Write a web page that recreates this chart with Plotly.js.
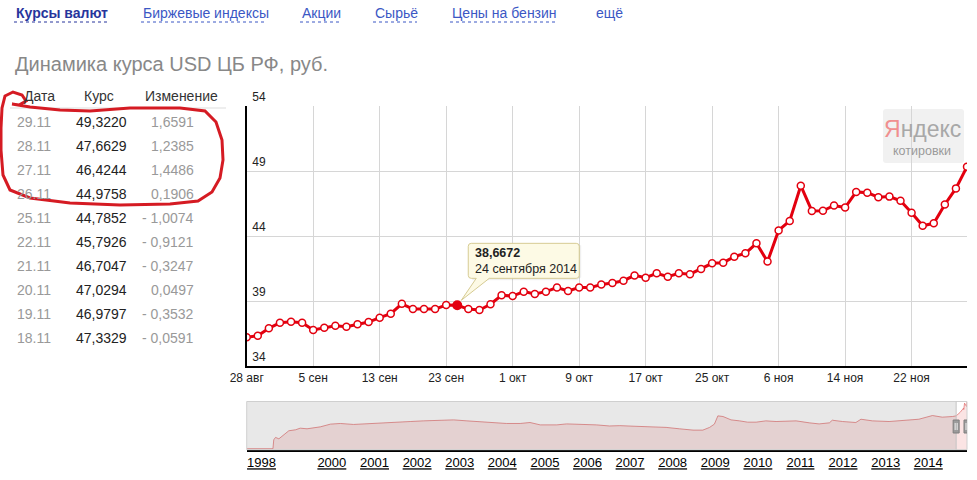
<!DOCTYPE html>
<html>
<head>
<meta charset="utf-8">
<script src="https://cdn.plot.ly/plotly-3.0.1.min.js"></script>
<style>
html,body{margin:0;padding:0;background:#fff;}
#chart{width:977px;height:480px;}
</style>
</head>
<body>
<div id="chart"></div>
<script>
// ---------- DATA ----------
const dates = ['28 авг','29 авг','30 авг','2 сен','3 сен','4 сен','5 сен','6 сен','9 сен','10 сен','11 сен','12 сен','13 сен','16 сен','17 сен','18 сен','19 сен','20 сен','23 сен','24 сен','25 сен','26 сен','27 сен','30 сен','1 окт','2 окт','3 окт','4 окт','7 окт','8 окт','9 окт','10 окт','11 окт','14 окт','15 окт','16 окт','17 окт','18 окт','21 окт','22 окт','23 окт','24 окт','25 окт','28 окт','29 окт','30 окт','31 окт','1 ноя','6 ноя','7 ноя','8 ноя','11 ноя','12 ноя','13 ноя','14 ноя','15 ноя','18 ноя','19 ноя','20 ноя','21 ноя','22 ноя','25 ноя','26 ноя','27 ноя','28 ноя','29 ноя'];
const rates = [36.21,36.33,36.90,37.33,37.41,37.33,36.77,36.95,37.10,37.02,
               37.21,37.38,37.72,38.02,38.78,38.38,38.38,38.38,38.69,38.6672,
               38.38,38.31,38.75,39.44,39.38,39.72,39.54,39.72,40.03,39.77,
               40.03,40.03,40.27,40.38,40.56,40.97,40.79,41.13,40.87,41.13,
               41.06,41.46,41.90,41.95,42.41,42.67,43.44,42.03,44.43,45.16,
               47.87,45.93,45.94,46.35,46.19,47.392,47.3329,46.9797,47.0294,46.7047,
               45.7926,44.7852,44.9758,46.4244,47.6629,49.3220];
const xTickLabels = ['28 авг','5 сен','13 сен','23 сен','1 окт','9 окт','17 окт','25 окт','6 ноя','14 ноя','22 ноя'];
const highlightIndex = 19;
const tooltipDate = '24 сентября 2014';

const tableHeaders = ['Дата','Курс','Изменение'];
const tableDates = ['29.11','28.11','27.11','26.11','25.11','22.11','21.11','20.11','19.11','18.11'];
const tableRates = [49.3220,47.6629,46.4244,44.9758,44.7852,45.7926,46.7047,47.0294,46.9797,47.3329];
const tableChanges = [1.6591,1.2385,1.4486,0.1906,-1.0074,-0.9121,-0.3247,0.0497,-0.3532,-0.0591];

const navDates = ['1998-01-01','1998-08-14','1998-08-21','1998-09-05','1998-10-04','1998-11-13','1998-12-28',
 '1999-02-24','1999-04-05','1999-06-02','1999-09-24','1999-12-20','2000-03-14','2000-07-05','2000-10-30',
 '2001-02-20','2001-07-12','2001-11-03','2002-02-24','2002-07-16','2002-11-10','2003-03-04','2003-06-25',
 '2003-10-16','2004-02-06','2004-06-03','2004-08-26','2004-11-22','2005-04-13','2005-07-06','2005-11-25',
 '2006-03-18','2006-07-09','2006-10-05','2007-01-26','2007-07-16','2007-11-06','2008-02-28','2008-06-24',
 '2008-09-16','2008-11-13','2008-12-24','2009-01-23','2009-03-08','2009-05-16','2009-07-28','2009-10-05',
 '2009-12-17','2010-03-10','2010-06-06','2010-08-29','2010-11-25','2011-03-18','2011-06-10','2011-09-06',
 '2011-10-01','2011-12-28','2012-04-20','2012-06-03','2012-09-09','2013-01-30','2013-06-21','2013-10-12',
 '2014-02-06','2014-05-01','2014-07-28','2014-08-28','2014-10-01','2014-10-31','2014-11-01','2014-11-08',
 '2014-11-25','2014-11-29'];
const navValues = [6.0,6.0,14.2,16.4,15.1,18.8,22.5,
 23.4,24.9,24.3,26.1,28.6,29.2,28.3,28.8,
 29.5,30.1,31.0,31.6,32.0,32.5,31.6,30.7,
 30.4,29.2,29.2,30.1,27.9,27.9,28.8,28.6,
 27.9,26.9,27.2,26.7,26.1,25.6,24.3,23.1,
 23.1,25.6,28.6,36.2,35.6,32.5,31.6,30.4,
 30.4,31.6,31.0,31.6,31.6,29.8,28.8,29.8,
 32.2,31.0,30.1,33.1,31.6,31.0,32.2,33.1,
 36.5,35.0,35.6,36.2,39.4,43.4,42.0,47.9,
 44.8,49.3];
const navYearTicks = ['1998-05-08','2000-01-01','2001-01-01','2002-01-01','2003-01-01','2004-01-01','2005-01-01','2006-01-01','2007-01-01','2008-01-01','2009-01-01','2010-01-01','2011-01-01','2012-01-01','2013-01-01','2014-01-01'];
const navYearLabels = ['1998','2000','2001','2002','2003','2004','2005','2006','2007','2008','2009','2010','2011','2012','2013','2014'];
const navWindow = ['2014-08-28','2014-11-29'];

const tabs = ['Курсы валют','Биржевые индексы','Акции','Сырьё','Цены на бензин','ещё'];
const pageTitle = 'Динамика курса USD ЦБ РФ, руб.';

// ---------- HELPERS ----------
const W = 977, H = 480;
const PX = x => x / W, PY = y => 1 - y / H;
const fmt = v => v.toFixed(4).replace('.', ',');
const fmtChange = v => (v < 0 ? '- ' : '') + Math.abs(v).toFixed(4).replace('.', ',');
const FONT = 'Arial, "Liberation Sans", sans-serif';
const RED = '#e3000f';

// ---------- TRACES ----------
const traces = [
  {
    x: dates, y: rates, type: 'scatter', mode: 'lines+markers',
    line: {color: RED, width: 3},
    marker: {size: 7, color: '#fff', line: {color: RED, width: 1.5}},
    xaxis: 'x', yaxis: 'y', hoverinfo: 'skip', showlegend: false
  },
  {
    x: [dates[highlightIndex]], y: [rates[highlightIndex]], type: 'scatter', mode: 'markers',
    marker: {size: 10, color: RED},
    xaxis: 'x', yaxis: 'y', hoverinfo: 'skip', showlegend: false
  },
  {
    x: navDates, y: navValues, type: 'scatter', mode: 'lines', fill: 'tozeroy',
    fillcolor: 'rgba(240,150,150,0.26)', line: {color: 'rgba(225,110,110,0.75)', width: 1},
    xaxis: 'x2', yaxis: 'y2', hoverinfo: 'skip', showlegend: false
  }
];

// ---------- ANNOTATIONS ----------
const ann = [];
const tabX = [14, 141, 300, 373, 450, 594];
tabs.forEach((t, i) => {
  ann.push({xref:'paper', yref:'paper', x: PX(tabX[i]), y: PY(13), xanchor:'left', yanchor:'middle',
    text: i === 0 ? '<b>' + t + '</b>' : t, showarrow:false,
    font:{family: FONT, size: 14, color: i === 0 ? '#27359c' : '#3b57c4'}});
});
ann.push({xref:'paper', yref:'paper', x: PX(13), y: PY(64), xanchor:'left', yanchor:'middle',
  text: pageTitle, showarrow:false, font:{family: FONT, size: 20, color:'#888'}});
const headX = [39, 99, 181];
tableHeaders.forEach((h, i) => {
  ann.push({xref:'paper', yref:'paper', x: PX(headX[i]), y: PY(96), xanchor:'center', yanchor:'middle',
    text: h, showarrow:false, font:{family: FONT, size: 14, color:'#333'}});
});
tableDates.forEach((d, i) => {
  const yy = PY(121.7 + 24 * i);
  ann.push({xref:'paper', yref:'paper', x: PX(15), y: yy, xanchor:'left', yanchor:'middle',
    text: d, showarrow:false, font:{family: FONT, size: 14, color:'#999'}});
  ann.push({xref:'paper', yref:'paper', x: PX(129), y: yy, xanchor:'right', yanchor:'middle',
    text: fmt(tableRates[i]), showarrow:false, font:{family: FONT, size: 14, color:'#222'}});
  ann.push({xref:'paper', yref:'paper', x: PX(196), y: yy, xanchor:'right', yanchor:'middle',
    text: fmtChange(tableChanges[i]), showarrow:false, font:{family: FONT, size: 14, color:'#999'}});
});
ann.push({xref:'x', yref:'y', x: dates[highlightIndex], y: rates[highlightIndex],
  xanchor:'left', yanchor:'middle', xshift: 16, yshift: 44, align:'left', showarrow:false,
  text: '<b>' + fmt(rates[highlightIndex]) + '</b><br>' + tooltipDate,
  font:{family: FONT, size: 12.5, color:'#222'}});
ann.push({xref:'paper', yref:'paper', x: PX(922), y: PY(129), xanchor:'center', yanchor:'middle', showarrow:false,
  text: '<span style="color:#f08f8f">Я</span>ндекс',
  font:{family: '"Liberation Sans Narrow", "Arial Narrow", sans-serif', size: 23, color:'#a8a8a8'}});
ann.push({xref:'paper', yref:'paper', x: PX(922), y: PY(151), xanchor:'center', yanchor:'middle', showarrow:false,
  text: 'котировки', font:{family: FONT, size: 12.5, color:'#9a9a9a'}});

// ---------- SHAPES ----------
const shapes = [];
const tabEnds = [109, 267, 340, 417, 556];
tabEnds.forEach((e, i) => {
  shapes.push({type:'line', xref:'paper', yref:'paper', x0: PX(tabX[i]), x1: PX(e), y0: PY(22), y1: PY(22),
    line:{color: i === 0 ? '#27359c' : '#3b57c4', width:1, dash:'dot'}});
});
shapes.push({type:'line', xref:'paper', yref:'paper', x0: PX(10), x1: PX(226), y0: PY(108), y1: PY(108),
  line:{color:'#ddd', width:1}});
const loop = [[1,128],[2,108],[5,96],[13,92],[22,95],[26,101],[19,105],[12,104],[30,107],[60,110],[90,111],
  [130,108],[180,108],[205,111],[216,122],[222,140],[223,160],[220,178],[212,192],[198,201],[170,204],
  [120,205],[70,203],[30,198],[10,190],[3,175],[1,150],[1,128]];
shapes.push({type:'path', xref:'paper', yref:'paper',
  path: loop.map((p, i) => (i ? 'L' : 'M') + PX(p[0]) + ',' + PY(p[1])).join(' '),
  line:{color:'#d51b23', width:3}});
const callout = 'M14,27 L19,27 L4,5 L32,27 L119,27 Q122,27 122,30 L122,59 Q122,62 119,62 L14,62 Q11,62 11,59 L11,30 Q11,27 14,27 Z';
shapes.push({type:'path', xref:'x', yref:'y', xsizemode:'pixel', ysizemode:'pixel',
  xanchor: dates[highlightIndex], yanchor: rates[highlightIndex],
  path: 'M15,25 L120,25 L124,28 L124,60 L15,60 Z', fillcolor:'rgba(0,0,0,0.06)', line:{width:0}, layer:'above'});
shapes.push({type:'path', xref:'x', yref:'y', xsizemode:'pixel', ysizemode:'pixel',
  xanchor: dates[highlightIndex], yanchor: rates[highlightIndex],
  path: callout, fillcolor:'rgba(253,250,228,0.96)', line:{color:'#d6cb93', width:1}, layer:'above'});
shapes.push({type:'path', xref:'paper', yref:'paper',
  path: 'M' + PX(886) + ',' + PY(109) + ' L' + PX(961) + ',' + PY(109) + ' Q' + PX(964) + ',' + PY(109) + ' ' + PX(964) + ',' + PY(112) +
        ' L' + PX(964) + ',' + PY(160) + ' Q' + PX(964) + ',' + PY(163) + ' ' + PX(961) + ',' + PY(163) +
        ' L' + PX(886) + ',' + PY(163) + ' Q' + PX(883) + ',' + PY(163) + ' ' + PX(883) + ',' + PY(160) +
        ' L' + PX(883) + ',' + PY(112) + ' Q' + PX(883) + ',' + PY(109) + ' ' + PX(886) + ',' + PY(109) + ' Z',
  fillcolor:'rgba(238,238,238,0.8)', line:{width:0}, layer:'below'});
shapes.push({type:'rect', xref:'x2', yref:'y2 domain', x0: navDates[0], x1: navWindow[0], y0: 0, y1: 1,
  fillcolor:'rgba(120,120,120,0.17)', line:{width:0}, layer:'above'});
shapes.push({type:'rect', xref:'x2 domain', yref:'y2 domain', x0: 0, x1: 1, y0: 0, y1: 1,
  line:{color:'#cfcfcf', width:1}, layer:'above'});
shapes.push({type:'line', xref:'x2', yref:'y2 domain', x0: navWindow[0], x1: navWindow[0], y0: 0, y1: 1,
  line:{color:'#c4c4c4', width:1}, layer:'above'});
navWindow.forEach(d => {
  shapes.push({type:'rect', xref:'x2', yref:'paper', xsizemode:'pixel', xanchor: d, x0: -3, x1: 3,
    y0: PY(433), y1: PY(420), fillcolor:'#9c9c9c', line:{color:'#7e7e7e', width:1}, layer:'above'});
  [-1, 1].forEach(o => shapes.push({type:'line', xref:'x2', yref:'paper', xsizemode:'pixel', xanchor: d,
    x0: o, x1: o, y0: PY(430), y1: PY(423), line:{color:'#eee', width:1}, layer:'above'}));
});

// ---------- LAYOUT ----------
const xDomain = [246.7 / W, 967 / W];
const layout = {
  width: W, height: H,
  margin: {l:0, r:0, t:0, b:0},
  paper_bgcolor:'#fff', plot_bgcolor:'#fff',
  showlegend:false,
  font:{family: FONT, size: 12, color:'#222'},
  xaxis: {
    domain: xDomain, anchor:'y', type:'category', range:[0, dates.length - 1],
    tickmode:'array', tickvals: xTickLabels, ticktext: xTickLabels,
    showgrid:true, gridcolor:'#d6d6d6', gridwidth:1,
    showline:true, linecolor:'#000', linewidth:2, ticks:'', zeroline:false,
    tickfont:{family: FONT, size: 12, color:'#222'}, fixedrange:true
  },
  yaxis: {
    domain: [1 - 366 / H, 1 - 106 / H], anchor:'x', range:[34, 54],
    tick0: 34, dtick: 5, showgrid:true, gridcolor:'#d6d6d6', gridwidth:1,
    showline:true, linecolor:'#000', linewidth:1.5, ticks:'', zeroline:false,
    ticklabelposition:'inside', ticklabeloverflow:'allow', ticklabelshift: -9, ticklabelstandoff: 5,
    tickfont:{family: FONT, size: 12, color:'#222'}, fixedrange:true
  },
  xaxis2: {
    domain: xDomain, anchor:'y2', type:'date', range:[navDates[0], navWindow[1]],
    tickmode:'array', tickvals: navYearTicks, ticktext: navYearLabels,
    showgrid:false, showline:true, linecolor:'#000', linewidth:2, ticks:'', zeroline:false,
    tickfont:{family: FONT, size: 13, color:'#000', lineposition:'under'}, fixedrange:true
  },
  yaxis2: {
    domain: [1 - 449.7 / H, 1 - 401.5 / H], anchor:'x2', range:[5.1, 49.4],
    visible:false, fixedrange:true
  },
  annotations: ann,
  shapes: shapes
};

Plotly.newPlot('chart', traces, layout, {displayModeBar:false, staticPlot:true});
</script>
</body>
</html>
